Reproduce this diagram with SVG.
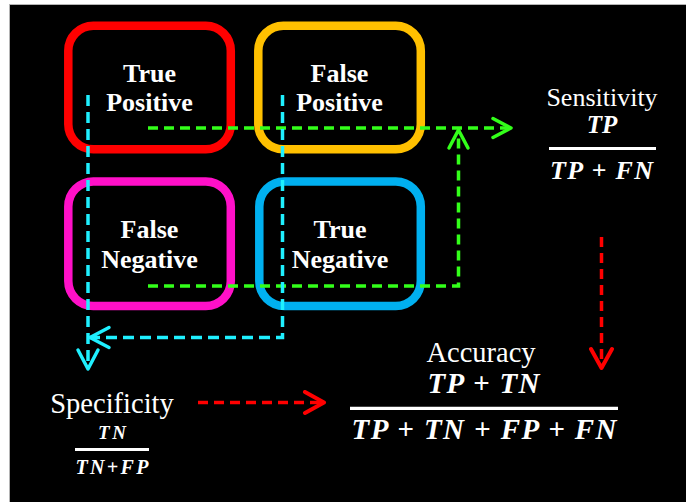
<svg xmlns="http://www.w3.org/2000/svg" width="686" height="502" viewBox="0 0 686 502">
<defs>
<style>
.box{fill:none;stroke-width:8.5}
.lbl{font-weight:bold;font-size:26px;fill:#fff;text-anchor:middle}
.ttl{fill:#fff;text-anchor:middle}
.math{font-weight:bold;font-style:italic;fill:#fff;text-anchor:middle}
.bar{stroke:#fff;stroke-width:3.2}
.con{fill:none;stroke-width:3.5}
.g{stroke:#33ff1a;stroke-dasharray:10 6}
.c{stroke:#1ff0ff;stroke-dasharray:11 6}
.r{stroke:#ff0000;stroke-dasharray:10 6}
</style>
<marker id="ag" viewBox="-22 -13 25 26" markerWidth="25" markerHeight="26" refX="0" refY="0" markerUnits="userSpaceOnUse" orient="auto"><path d="M-18,-9.5 L0,0 L-18,9.5" fill="none" stroke="#33ff1a" stroke-width="3.5" stroke-linecap="round" stroke-linejoin="round"/></marker>
<marker id="ac" viewBox="-22 -13 25 26" markerWidth="25" markerHeight="26" refX="0" refY="0" markerUnits="userSpaceOnUse" orient="auto"><path d="M-19,-10 L0,0 L-19,10" fill="none" stroke="#1ff0ff" stroke-width="3.5" stroke-linecap="round" stroke-linejoin="round"/></marker>
<marker id="ar" viewBox="-22 -13 25 26" markerWidth="25" markerHeight="26" refX="0" refY="0" markerUnits="userSpaceOnUse" orient="auto"><path d="M-19,-10.5 L0,0 L-19,10.5" fill="none" stroke="#ff0000" stroke-width="4" stroke-linecap="round" stroke-linejoin="round"/></marker>
</defs>
<rect x="0" y="0" width="686" height="502" fill="#fff"/>
<rect x="9.5" y="4.5" width="677" height="498" fill="#000" stroke="#b4b4b4" stroke-width="1"/>

<g font-family="Liberation Serif, Times New Roman, serif">
<g id="true-positive">
<rect class="box" x="68.3" y="25.8" width="162.5" height="123.5" rx="25" stroke="#ff0000"/>
<text class="lbl" x="149.5" y="82">True</text>
<text class="lbl" x="149.5" y="111">Positive</text>
</g>
<g id="false-positive">
<rect class="box" x="258.3" y="25.8" width="162.5" height="123.5" rx="25" stroke="#ffc000"/>
<text class="lbl" x="339.5" y="82">False</text>
<text class="lbl" x="339.5" y="111">Positive</text>
</g>
<g id="false-negative">
<rect class="box" x="68.3" y="181.5" width="162.5" height="124.5" rx="25" stroke="#ff10c8"/>
<text class="lbl" x="149.5" y="238">False</text>
<text class="lbl" x="149.5" y="268">Negative</text>
</g>
<g id="true-negative">
<rect class="box" x="259.3" y="181.5" width="161.5" height="124.5" rx="25" stroke="#00b0f0"/>
<text class="lbl" x="340" y="238">True</text>
<text class="lbl" x="340" y="268">Negative</text>
</g>
</g>

<g id="connectors">
<path class="con g" d="M148,128 H511" marker-end="url(#ag)"/>
<path class="con g" d="M148,286 H458.5 V130" marker-end="url(#ag)"/>
<path class="con c" d="M88,95 V369" marker-end="url(#ac)"/>
<path class="con c" d="M282.5,95 V337.5 H90" marker-end="url(#ac)"/>
<path class="con r" d="M601.5,237 V368" marker-end="url(#ar)"/>
<path class="con r" d="M198,402.5 H324" marker-end="url(#ar)"/>
</g>

<g font-family="Liberation Serif, Times New Roman, serif">
<g id="sensitivity">
<text class="ttl" x="602" y="106" font-size="26">Sensitivity</text>
<text class="math" x="602" y="133" font-size="25">TP</text>
<line class="bar" x1="549" y1="148.5" x2="656" y2="148.5"/>
<text class="math" x="601.5" y="179" font-size="26" textLength="103">TP + FN</text>
</g>

<g id="accuracy">
<text class="ttl" x="481" y="362" font-size="28.5">Accuracy</text>
<text class="math" x="483.5" y="392.5" font-size="29" textLength="112">TP + TN</text>
<line class="bar" x1="350" y1="408.3" x2="618" y2="408.3"/>
<text class="math" x="484" y="438.5" font-size="29" textLength="265">TP + TN + FP + FN</text>
</g>

<g id="specificity">
<text class="ttl" x="112" y="413" font-size="28.5">Specificity</text>
<text class="math" x="112" y="439" font-size="19" textLength="28">TN</text>
<line class="bar" x1="75" y1="449.5" x2="149" y2="449.5"/>
<text class="math" x="112" y="474" font-size="20" textLength="73">TN+FP</text>
</g>
</g>
</svg>
